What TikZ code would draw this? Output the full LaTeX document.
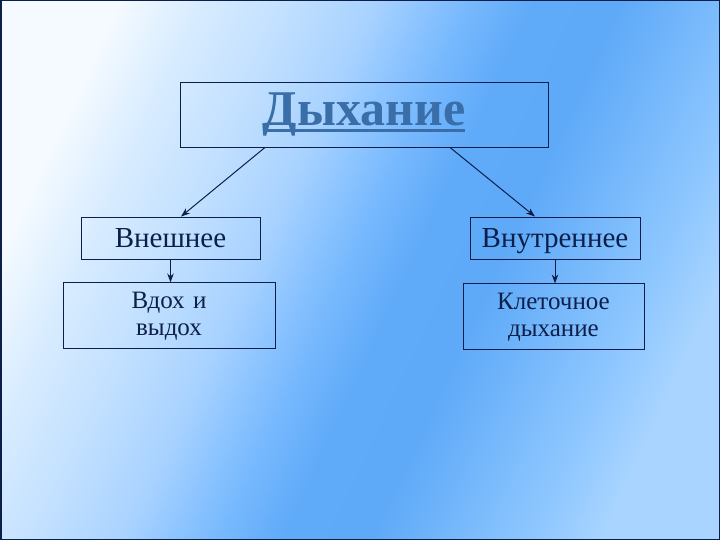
\documentclass[tikz,border=0pt]{standalone}
\usepackage{fontspec}
\setmainfont{Liberation Serif}
\usetikzlibrary{positioning, arrows.meta}
\definecolor{ink}{HTML}{0B1F4A}
\definecolor{titleink}{HTML}{3A6EA8}
\definecolor{bg0}{HTML}{F4FAFF}
\definecolor{bg1}{HTML}{D8ECFF}
\definecolor{bg2}{HTML}{C2E0FF}
\definecolor{bg3}{HTML}{A8D2FF}
\definecolor{bg4}{HTML}{8EC5FF}
\definecolor{bg5}{HTML}{78B9FD}
\definecolor{bg6}{HTML}{5FAAF9}
\definecolor{bg7}{HTML}{5EA9F8}
\definecolor{bg8}{HTML}{6CB2FA}
\definecolor{bg9}{HTML}{90C8FF}
\definecolor{bg10}{HTML}{A8D4FF}
\pgfdeclarehorizontalshading{slide}{100bp}{color(0bp)=(bg0); color(25bp)=(bg0); color(30.5bp)=(bg1); color(36.5bp)=(bg2);
  color(42.5bp)=(bg3); color(45.8bp)=(bg4); color(48.8bp)=(bg5); color(53.4bp)=(bg6); color(59.1bp)=(bg7);
  color(62.5bp)=(bg8); color(70.7bp)=(bg9); color(75bp)=(bg10); color(100bp)=(bg10)}
\newcommand\titleline[1]{\setbox0=\hbox{#1}\rlap{\copy0}\rule[-6pt]{\wd0}{3pt}}

\begin{document}
\begin{tikzpicture}[x=1pt, y=-1pt, thick, >={Stealth[length=9pt, width=6.5pt]},
  main/.style = {draw=ink, line width=0.9pt, text=ink, align=center, inner sep=2pt},
  upper/.style = {main, minimum height=42pt, text height=19pt, text depth=0pt, font=\fontsize{29}{30}\selectfont},
  lower/.style = {main, minimum height=66pt, font=\fontsize{25}{27}\selectfont},
  head/.style = {draw=ink, line width=0.9pt, minimum width=368pt, minimum height=65pt, font=\fontsize{50}{54}\selectfont\bfseries, text=titleink}]
% background
\shade[shading=slide, shading angle=-25] (0,0) rectangle (720,540);
\draw[ink, line width=1.5pt] (0.75,0.75) rectangle (719.25,539.25);
\useasboundingbox (0,0) rectangle (720,540);
\node[head] (1) at (364,114.5) {\titleline{Дыхание}};
\node[upper, minimum width=179pt] (2) at (170.5,238) {Внешнее};
\node[upper, minimum width=170pt] (3) at (555,238) {Внутреннее};
\node[lower, minimum width=212pt, text width=200pt] (4) [below=23pt of 2, xshift=-1.5pt] {Вдох и\\выдох};
\node[lower, minimum width=181pt, text width=170pt] (5) [below=24pt of 3, xshift=-1.5pt] {Клеточное\\дыхание};
\draw[->, ink, line width=1pt] ([xshift=-99pt]1.south) -- ([xshift=10.5pt]2.north);
\draw[->, ink, line width=1pt] ([xshift=86pt]1.south) -- ([xshift=-20pt]3.north);
\draw[->, ink, line width=1pt] (2.south) -- (4.north -| 2.south);
\draw[->, ink, line width=1pt] (3.south) -- (5.north -| 3.south);
\end{tikzpicture}
\end{document}
